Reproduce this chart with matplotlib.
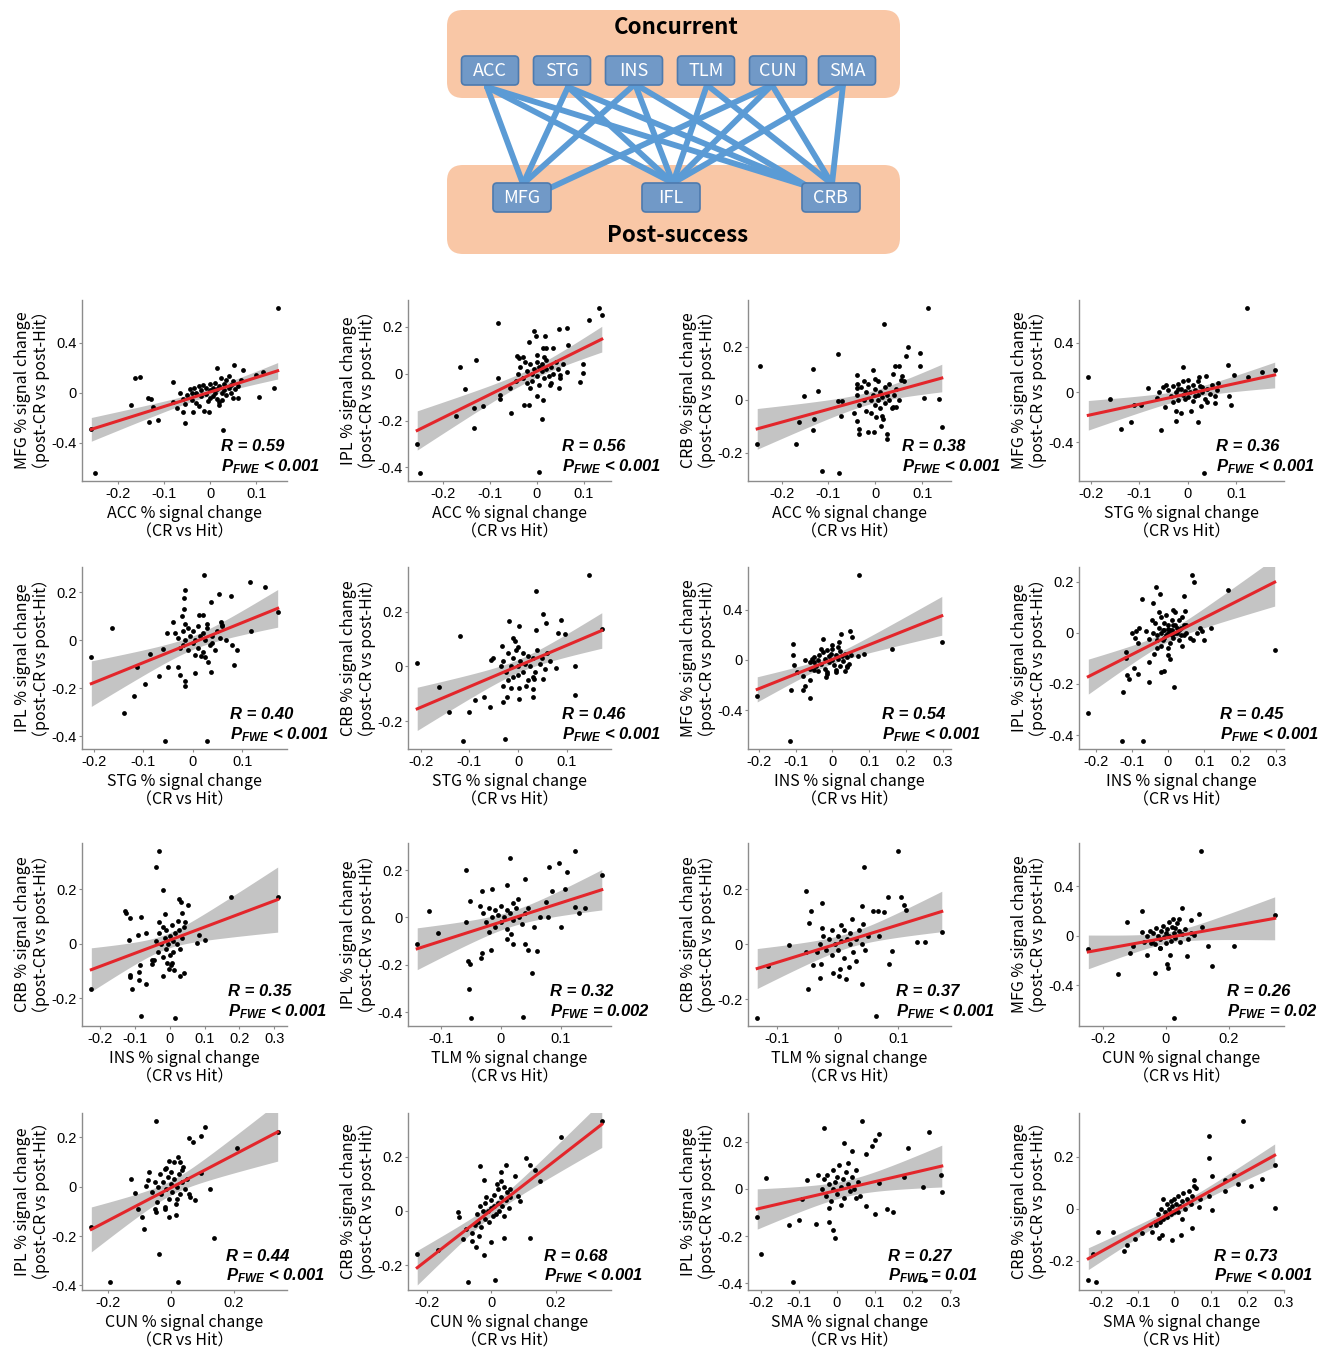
import numpy as np
import matplotlib.pyplot as plt
from matplotlib.patches import FancyBboxPatch
from matplotlib.ticker import MultipleLocator, FuncFormatter

plt.rcParams['axes.unicode_minus'] = False
plt.rcParams['mathtext.fontset'] = 'custom'
plt.rcParams['mathtext.it'] = 'Liberation Sans:italic:bold'
plt.rcParams['mathtext.rm'] = 'Liberation Sans:bold'

# ---- network diagram ----
concurrent = ['ACC', 'STG', 'INS', 'TLM', 'CUN', 'SMA']
post_success = ['MFG', 'IFL', 'CRB']
edges = [('ACC', 'MFG'), ('ACC', 'IFL'), ('ACC', 'CRB'),
         ('STG', 'MFG'), ('STG', 'IFL'), ('STG', 'CRB'),
         ('INS', 'MFG'), ('INS', 'IFL'), ('INS', 'CRB'),
         ('TLM', 'IFL'), ('TLM', 'CRB'),
         ('CUN', 'MFG'), ('CUN', 'IFL'), ('CUN', 'CRB'),
         ('SMA', 'IFL'), ('SMA', 'CRB')]

# ---- scatter data (x: concurrent ROI, y: post-success ROI) ----
acc_mfg = [(0.147, 0.675), (-0.251, -0.64), (-0.259, -0.29), (-0.164, 0.115), (-0.154, 0.128),
           (-0.08, 0.088), (-0.173, -0.099), (-0.136, -0.045), (-0.13, -0.048), (-0.124, -0.112),
           (-0.134, -0.237), (-0.114, -0.219), (-0.055, -0.24), (0.027, -0.3), (-0.081, -0.077),
           (-0.073, -0.125), (-0.059, -0.152), (-0.037, -0.152), (-0.014, -0.147), (-0.003, -0.157),
           (0.014, 0.2), (0.052, 0.221), (0.072, 0.181), (0.099, 0.141), (0.116, 0.168),
           (0.106, -0.032), (0.14, 0.035), (0.049, -0.045), (0.02, -0.072), (0.04, 0.133),
           (0.024, 0.115), (0.066, 0.101), (0.045, 0.06), (0.06, 0.05),
           (-0.05, -0.02), (-0.045, 0.03), (-0.04, -0.06), (-0.035, 0.04), (-0.03, 0.0),
           (-0.03, -0.08), (-0.025, 0.05), (-0.02, -0.03), (-0.02, 0.02), (-0.015, 0.06),
           (-0.01, -0.01), (-0.01, 0.04), (-0.005, -0.07), (0.0, 0.02), (0.0, 0.07),
           (0.005, -0.03), (0.005, 0.04), (0.01, 0.0), (0.01, 0.08), (0.015, -0.05),
           (0.015, 0.03), (0.02, 0.05), (0.025, 0.0), (0.025, -0.06), (0.03, 0.07),
           (0.03, 0.02), (0.035, -0.02), (0.04, 0.04), (0.045, 0.0), (0.05, 0.09),
           (0.055, 0.03), (0.06, -0.04), (-0.06, -0.05), (-0.065, 0.0), (-0.055, -0.09),
           (-0.04, 0.0), (0.0, -0.04), (0.02, -0.1), (0.035, 0.1), (-0.025, -0.11)]

acc_ipl = [(0.133, 0.279), (0.138, 0.25), (0.11, 0.229), (0.065, 0.196), (0.047, 0.191),
           (-0.006, 0.181), (-0.082, 0.214), (-0.016, 0.136), (-0.002, 0.16), (0.018, 0.16),
           (0.014, 0.11), (0.02, 0.108), (0.034, 0.11), (0.066, 0.121), (-0.13, 0.057),
           (-0.163, 0.029), (-0.153, -0.067), (-0.172, -0.181), (-0.133, -0.233), (-0.133, -0.147),
           (-0.115, -0.14), (-0.254, -0.3), (-0.248, -0.423), (0.004, -0.421), (-0.054, -0.17),
           (0.011, -0.193), (-0.027, -0.133), (-0.016, -0.133), (0.014, -0.113), (0.001, -0.097),
           (-0.082, -0.019), (-0.078, -0.093), (-0.078, -0.109), (-0.057, -0.061), (0.027, -0.047),
           (0.047, -0.061), (0.099, 0.041), (0.099, 0.003), (0.092, -0.037), (0.064, 0.007),
           (0.05, -0.004), (-0.043, 0.074), (-0.037, 0.067),
           (-0.04, 0.0), (-0.035, 0.03), (-0.03, -0.02), (-0.025, 0.05), (-0.02, 0.01),
           (-0.02, -0.04), (-0.015, 0.04), (-0.01, 0.0), (-0.01, -0.03), (-0.005, 0.02),
           (0.0, 0.05), (0.0, -0.01), (0.005, 0.03), (0.005, -0.05), (0.01, 0.01),
           (0.01, 0.04), (0.015, -0.02), (0.02, 0.02), (0.02, 0.06), (0.025, -0.01),
           (0.03, 0.03), (0.035, 0.0), (0.04, 0.05), (0.045, 0.02), (0.05, -0.02),
           (0.055, 0.04), (-0.045, -0.03), (0.0, 0.08), (-0.03, 0.07), (0.03, -0.04),
           (0.015, 0.07), (-0.015, -0.06)]

acc_crb = [(0.113, 0.346), (0.019, 0.287), (0.069, 0.199), (0.096, 0.177), (0.065, 0.165),
           (0.096, 0.127), (-0.079, 0.175), (-0.133, 0.118), (-0.246, 0.127), (-0.123, 0.034),
           (-0.152, 0.016), (-0.162, -0.082), (-0.13, -0.072), (-0.133, -0.114), (-0.17, -0.166),
           (-0.252, -0.168), (-0.113, -0.268), (-0.077, -0.275), (-0.079, -0.006), (-0.071, -0.004),
           (-0.074, -0.059), (-0.038, 0.095), (-0.039, 0.059), (-0.038, 0.045), (-0.038, -0.08),
           (-0.035, -0.13), (-0.035, -0.108), (-0.016, -0.12), (-0.002, -0.123), (-0.004, 0.114),
           (0.026, -0.13), (0.026, -0.149), (0.001, -0.066), (0.013, -0.097), (0.016, -0.073),
           (0.038, 0.097), (0.043, 0.127), (0.05, 0.127), (0.057, 0.092), (0.055, 0.076),
           (0.062, 0.07), (0.038, -0.025), (0.045, -0.025), (0.137, 0.003), (0.142, -0.103),
           (0.105, 0.009),
           (-0.04, 0.02), (-0.035, -0.02), (-0.03, 0.05), (-0.025, 0.0), (-0.02, -0.04),
           (-0.02, 0.03), (-0.015, 0.06), (-0.01, 0.0), (-0.01, -0.05), (-0.005, 0.02),
           (0.0, 0.04), (0.0, -0.02), (0.005, 0.07), (0.005, 0.0), (0.01, 0.03),
           (0.01, -0.03), (0.015, 0.01), (0.02, 0.05), (0.02, -0.01), (0.025, 0.02),
           (0.03, 0.0), (0.03, 0.06), (0.035, -0.03), (0.04, 0.02), (0.045, 0.04),
           (-0.045, -0.05), (0.0, 0.08), (0.015, -0.06), (-0.025, 0.07), (0.05, 0.0)]

stg_mfg = [(0.122, 0.675), (-0.205, 0.12), (0.034, -0.645), (-0.137, -0.293), (-0.118, -0.24),
           (-0.055, -0.304), (-0.16, -0.053), (-0.11, -0.099), (-0.096, -0.099), (-0.083, 0.035),
           (-0.059, 0.003), (-0.051, 0.04), (-0.047, -0.12), (-0.064, -0.045), (-0.01, 0.2),
           (0.083, 0.221), (0.096, 0.141), (0.124, 0.123), (0.152, 0.163), (0.179, 0.181),
           (0.063, 0.075), (0.084, -0.032), (0.088, -0.099), (0.056, -0.085), (0.027, -0.112),
           (0.007, -0.147), (-0.024, -0.152), (-0.024, -0.227), (0.022, -0.24), (-0.014, -0.165),
           (0.024, 0.12), (0.037, 0.128),
           (-0.04, 0.02), (-0.035, -0.03), (-0.03, 0.05), (-0.025, 0.0), (-0.02, 0.07),
           (-0.02, -0.06), (-0.015, 0.03), (-0.01, -0.02), (-0.01, 0.09), (-0.005, 0.01),
           (0.0, -0.04), (0.0, 0.04), (0.005, 0.0), (0.01, 0.06), (0.01, -0.07),
           (0.015, 0.02), (0.02, -0.02), (0.025, 0.05), (0.03, 0.0), (0.035, -0.05),
           (0.04, 0.03), (0.045, -0.01), (0.05, 0.06), (0.055, -0.03), (-0.03, -0.08),
           (0.0, 0.1), (0.02, 0.09), (0.04, -0.08), (-0.045, 0.06), (0.06, 0.02),
           (-0.02, 0.03), (0.015, -0.03), (0.03, 0.04), (-0.005, -0.05)]

stg_ipl = [(0.022, 0.271), (0.116, 0.244), (0.146, 0.223), (-0.016, 0.21), (-0.018, 0.175),
           (0.053, 0.193), (0.078, 0.185), (0.038, 0.158), (-0.018, 0.13), (0.012, 0.107),
           (0.021, 0.107), (-0.022, 0.103), (-0.039, 0.075), (-0.016, 0.068), (0.058, 0.075),
           (0.06, 0.066), (0.172, 0.118), (0.118, 0.038), (0.067, 0.0), (0.079, -0.021),
           (0.09, -0.04), (0.084, -0.103), (-0.163, 0.052), (-0.205, -0.068), (-0.112, -0.112),
           (-0.086, -0.055), (-0.061, -0.034), (-0.052, 0.032), (-0.05, -0.112), (-0.068, -0.147),
           (-0.097, -0.181), (-0.119, -0.233), (-0.139, -0.301), (-0.029, -0.112), (-0.025, -0.144),
           (-0.015, -0.171), (-0.015, -0.192), (0.004, -0.137), (0.031, -0.092), (0.038, -0.133),
           (-0.056, -0.418), (0.029, -0.418), (0.016, -0.064), (0.025, -0.071),
           (-0.03, 0.01), (-0.025, -0.03), (-0.02, 0.04), (-0.015, 0.0), (-0.01, 0.05),
           (-0.01, -0.04), (-0.005, 0.02), (0.0, -0.01), (0.0, 0.04), (0.005, 0.0),
           (0.01, 0.06), (0.01, -0.03), (0.015, 0.02), (0.02, -0.05), (0.02, 0.03),
           (0.025, 0.0), (0.03, 0.05), (0.035, -0.02), (0.04, 0.02), (0.045, -0.04),
           (0.05, 0.04), (0.055, 0.01), (0.06, 0.06), (-0.035, 0.03), (0.005, -0.06),
           (0.03, 0.07), (-0.02, -0.02), (0.04, -0.01)]

stg_crb = [(0.145, 0.333), (0.037, 0.274), (0.052, 0.19), (0.089, 0.168), (0.058, 0.159),
           (0.002, 0.148), (-0.018, 0.166), (0.037, 0.135), (0.172, 0.138), (-0.12, 0.11),
           (-0.207, 0.012), (-0.163, -0.076), (-0.141, -0.167), (-0.1, -0.167), (-0.088, -0.124),
           (-0.069, -0.112), (-0.058, -0.149), (-0.114, -0.271), (-0.027, -0.265), (-0.03, -0.073),
           (-0.031, -0.13), (-0.022, -0.112), (-0.014, -0.078), (0.003, -0.118), (0.001, -0.078),
           (0.016, -0.07), (0.031, -0.112), (0.031, -0.082), (0.033, -0.045), (0.051, -0.045),
           (0.118, 0.0), (0.116, -0.104), (0.077, -0.005), (0.082, 0.122), (0.097, 0.117),
           (-0.01, 0.105), (-0.007, 0.092), (-0.033, 0.073), (-0.052, 0.032), (-0.056, 0.025),
           (-0.03, 0.02), (-0.025, -0.02), (-0.02, 0.05), (-0.015, 0.0), (-0.01, -0.04),
           (-0.01, 0.03), (-0.005, 0.06), (0.0, 0.0), (0.0, -0.03), (0.005, 0.02),
           (0.01, 0.05), (0.01, -0.02), (0.015, 0.01), (0.02, 0.04), (0.02, -0.05),
           (0.025, 0.0), (0.03, 0.03), (0.035, -0.02), (0.04, 0.06), (0.045, 0.01),
           (0.05, 0.03), (0.055, -0.01), (0.06, 0.05), (0.065, 0.02), (-0.035, 0.0),
           (0.0, 0.07), (0.03, -0.04), (-0.02, -0.05)]

ins_mfg = [(0.073, 0.675), (-0.204, -0.291), (-0.116, -0.645), (-0.113, -0.24), (-0.062, -0.304),
           (-0.079, -0.237), (-0.075, -0.211), (-0.106, 0.128), (-0.106, 0.04), (-0.103, -0.04),
           (-0.097, -0.093), (-0.079, -0.131), (-0.062, -0.157), (-0.075, 0.003), (-0.054, 0.008),
           (-0.051, -0.019), (-0.026, 0.168), (0.024, 0.208), (0.048, 0.227), (0.053, 0.181),
           (0.018, 0.141), (0.015, 0.101), (0.069, 0.029), (0.085, 0.048), (0.163, 0.088),
           (0.297, 0.141), (-0.018, -0.139), (-0.015, -0.112), (0.011, -0.099), (0.035, -0.085),
           (0.04, -0.051), (-0.04, -0.085), (-0.062, -0.072),
           (-0.06, -0.02), (-0.05, 0.02), (-0.045, -0.05), (-0.04, 0.0), (-0.035, 0.04),
           (-0.03, -0.03), (-0.025, 0.06), (-0.02, 0.01), (-0.02, -0.07), (-0.015, 0.08),
           (-0.01, 0.03), (-0.01, -0.02), (-0.005, 0.05), (0.0, 0.0), (0.0, 0.09),
           (0.005, -0.04), (0.01, 0.04), (0.015, 0.01), (0.02, 0.07), (0.02, -0.05),
           (0.025, 0.03), (0.03, -0.01), (0.035, 0.05), (0.04, 0.02), (0.045, -0.03),
           (0.05, 0.04), (-0.03, 0.09), (0.01, -0.08), (-0.05, -0.08), (0.04, -0.06),
           (0.0, 0.12), (-0.015, -0.1)]

ins_ipl = [(0.066, 0.225), (0.071, 0.199), (0.165, 0.168), (0.295, -0.068), (-0.034, 0.178),
           (-0.022, 0.153), (-0.072, 0.134), (-0.04, 0.116), (0.044, 0.145), (0.048, 0.084),
           (0.08, 0.0), (0.094, 0.007), (-0.088, 0.007), (-0.084, -0.039), (-0.06, 0.007),
           (-0.052, -0.025), (-0.115, -0.075), (-0.115, -0.097), (-0.113, -0.165), (-0.108, -0.18),
           (-0.124, -0.23), (-0.093, -0.136), (-0.084, -0.162), (-0.052, -0.116), (-0.052, -0.191),
           (-0.02, -0.155), (-0.011, -0.15), (0.018, -0.212), (0.001, -0.087), (0.007, -0.104),
           (-0.22, -0.314), (-0.126, -0.422), (-0.07, -0.422), (-0.038, -0.082), (-0.029, -0.061),
           (-0.04, 0.0), (-0.035, 0.04), (-0.03, -0.03), (-0.025, 0.02), (-0.02, 0.06),
           (-0.02, -0.05), (-0.015, 0.01), (-0.01, 0.04), (-0.01, -0.02), (-0.005, 0.07),
           (0.0, 0.0), (0.0, 0.03), (0.005, -0.04), (0.01, 0.05), (0.01, 0.01),
           (0.015, -0.02), (0.02, 0.03), (0.02, 0.08), (0.025, 0.0), (0.03, 0.05),
           (0.03, -0.03), (0.035, 0.02), (0.04, 0.06), (0.045, -0.01), (0.05, 0.03),
           (-0.045, 0.05), (0.0, -0.06), (0.015, 0.09), (-0.025, 0.08), (0.04, -0.05),
           (-0.03, -0.01), (-0.02, 0.0), (-0.015, -0.03), (-0.005, -0.01), (0.005, 0.01),
           (0.01, -0.01), (0.015, 0.03), (0.025, 0.02), (0.03, 0.01), (0.035, -0.01),
           (-0.01, 0.01), (0.0, 0.015), (0.02, 0.0), (0.045, 0.03), (0.05, 0.0),
           (-0.1, 0.0), (-0.09, -0.02), (-0.08, 0.02), (0.06, -0.02), (0.07, -0.03),
           (0.09, 0.02), (0.12, 0.02), (0.1, -0.03)]

ins_crb = [(-0.032, 0.34), (-0.039, 0.282), (-0.02, 0.196), (0.175, 0.172), (0.31, 0.172),
           (-0.226, -0.168), (-0.082, -0.267), (0.016, -0.272), (-0.129, 0.119), (-0.125, 0.114),
           (-0.115, 0.094), (-0.119, 0.015), (-0.082, 0.098), (-0.091, 0.033), (-0.07, 0.04),
           (-0.086, -0.08), (-0.088, -0.104), (-0.115, -0.114), (-0.115, -0.123), (-0.088, -0.133),
           (-0.07, -0.147), (-0.11, -0.166), (-0.052, -0.058), (-0.052, -0.074), (-0.02, -0.119),
           (-0.002, -0.094), (-0.009, -0.07), (0.028, -0.117), (0.004, -0.08), (0.077, 0.002),
           (0.101, 0.012), (0.083, 0.033), (0.022, 0.082), (0.026, 0.163), (0.032, 0.155),
           (0.053, 0.141), (0.034, 0.113), (0.044, 0.08), (-0.015, 0.11), (0.04, -0.107),
           (0.012, -0.098),
           (-0.04, 0.01), (-0.035, -0.03), (-0.03, 0.04), (-0.025, 0.0), (-0.02, -0.05),
           (-0.02, 0.06), (-0.015, 0.02), (-0.01, -0.02), (-0.01, 0.05), (-0.005, 0.0),
           (0.0, 0.03), (0.0, -0.04), (0.005, 0.07), (0.01, 0.01), (0.01, -0.03),
           (0.015, 0.04), (0.02, 0.0), (0.025, 0.05), (0.03, -0.02), (0.035, 0.02),
           (0.04, 0.06), (-0.045, -0.06), (0.005, -0.07), (-0.03, 0.08)]

tlm_ipl = [(0.124, 0.279), (0.015, 0.25), (0.097, 0.229), (0.081, 0.214), (0.11, 0.19),
           (0.169, 0.179), (-0.059, 0.2), (0.041, 0.16), (0.01, 0.136), (-0.031, 0.11),
           (-0.014, 0.118), (-0.052, 0.071), (-0.121, 0.026), (0.028, 0.079), (0.086, 0.111),
           (0.107, 0.121), (0.076, 0.064), (0.124, 0.043), (0.141, 0.04), (0.131, 0.017),
           (0.101, -0.04), (-0.14, -0.111), (-0.106, -0.067), (-0.059, -0.021), (-0.055, -0.183),
           (-0.052, -0.197), (-0.034, -0.171), (-0.032, -0.15), (-0.017, -0.136), (-0.054, -0.303),
           (-0.05, -0.424), (0.037, -0.421), (0.053, -0.236), (0.06, -0.143), (0.045, -0.136),
           (0.04, -0.111), (0.021, -0.114), (0.017, -0.071), (0.01, -0.093), (0.055, -0.04),
           (0.066, 0.0), (0.079, 0.0),
           (-0.03, 0.02), (-0.025, -0.02), (-0.02, 0.04), (-0.015, 0.0), (-0.01, -0.04),
           (-0.01, 0.03), (-0.005, 0.01), (0.0, 0.05), (0.0, -0.02), (0.005, 0.0),
           (0.01, 0.03), (0.01, -0.05), (0.015, 0.02), (0.02, -0.01), (0.025, 0.04),
           (0.03, 0.0), (0.035, -0.03), (0.04, 0.02), (-0.035, 0.05), (0.02, 0.06),
           (-0.02, -0.06), (0.045, 0.04)]

tlm_crb = [(0.099, 0.338), (0.043, 0.28), (-0.052, 0.195), (0.083, 0.171), (0.104, 0.173),
           (0.11, 0.144), (0.113, 0.126), (-0.026, 0.15), (-0.044, 0.122), (0.04, 0.138),
           (-0.133, -0.268), (-0.115, -0.079), (-0.08, -0.004), (-0.052, -0.03), (-0.049, -0.165),
           (-0.04, -0.077), (-0.029, -0.122), (-0.028, -0.073), (-0.008, -0.107), (0.003, -0.091),
           (0.002, -0.115), (0.014, -0.128), (0.019, -0.082), (0.04, -0.146), (0.064, -0.262),
           (0.085, -0.071), (0.09, -0.024), (0.131, 0.006), (0.144, 0.009), (0.172, 0.043),
           (0.058, 0.122), (0.066, 0.122), (0.076, 0.118), (-0.026, 0.057), (-0.047, 0.077),
           (0.024, 0.091), (0.042, 0.073), (0.068, 0.03),
           (-0.03, 0.0), (-0.025, 0.03), (-0.02, -0.02), (-0.015, 0.02), (-0.01, 0.05),
           (-0.01, -0.04), (-0.005, 0.0), (0.0, 0.03), (0.0, -0.02), (0.005, 0.01),
           (0.01, 0.05), (0.01, -0.05), (0.015, 0.02), (0.02, 0.0), (0.02, 0.04),
           (0.025, -0.03), (0.03, 0.02), (0.035, 0.05), (0.04, 0.0), (0.045, -0.02),
           (0.05, 0.03), (-0.035, -0.03), (0.005, 0.07), (0.03, -0.06)]

cun_mfg = [(0.112, 0.681), (0.345, 0.166), (0.027, -0.662), (-0.246, -0.105), (-0.151, -0.309),
           (-0.034, -0.303), (-0.077, 0.199), (-0.124, 0.11), (-0.115, -0.138), (-0.104, -0.083),
           (-0.077, 0.028), (-0.061, -0.152), (0.004, -0.229), (0.007, -0.257), (0.014, -0.152),
           (0.05, 0.221), (0.104, 0.179), (0.081, 0.13), (0.115, 0.069), (0.135, -0.083),
           (0.146, -0.248), (0.216, -0.083), (0.068, -0.166), (0.088, 0.006), (0.024, 0.138),
           (0.04, 0.138), (-0.047, -0.063), (-0.02, -0.097),
           (-0.06, 0.0), (-0.05, 0.04), (-0.045, -0.04), (-0.04, 0.02), (-0.035, -0.07),
           (-0.03, 0.06), (-0.025, 0.0), (-0.02, -0.03), (-0.015, 0.04), (-0.01, 0.08),
           (-0.005, -0.01), (0.0, 0.02), (0.0, -0.06), (0.005, 0.05), (0.01, 0.0),
           (0.015, -0.04), (0.02, 0.07), (0.025, 0.02), (0.03, -0.02), (0.035, 0.1),
           (0.04, 0.04), (0.045, -0.05), (0.05, 0.01), (0.06, 0.05), (0.07, -0.03),
           (-0.07, -0.05), (0.01, 0.11), (-0.02, -0.1), (0.03, 0.06), (0.08, 0.02)]

cun_ipl = [(0.341, 0.223), (0.211, 0.157), (-0.046, 0.266), (0.108, 0.24), (0.095, 0.204),
           (0.057, 0.197), (0.07, 0.183), (-0.127, 0.033), (-0.114, -0.024), (-0.105, -0.089),
           (-0.092, -0.124), (-0.086, -0.171), (-0.254, -0.164), (-0.038, -0.274), (-0.195, -0.386),
           (0.022, -0.386), (0.138, -0.206), (0.124, -0.01), (0.076, -0.053), (0.057, -0.031),
           (0.016, -0.113), (-0.005, -0.124), (-0.051, -0.089), (-0.046, -0.103), (-0.019, -0.081),
           (0.035, 0.066), (-0.005, 0.104), (-0.014, 0.076), (0.022, 0.119), (0.095, 0.057),
           (-0.073, 0.026), (-0.078, 0.004),
           (-0.06, -0.02), (-0.05, 0.02), (-0.045, -0.06), (-0.04, 0.0), (-0.035, 0.05),
           (-0.03, -0.03), (-0.025, 0.02), (-0.02, 0.07), (-0.015, -0.01), (-0.01, 0.04),
           (-0.005, -0.05), (0.0, 0.01), (0.0, 0.06), (0.005, -0.02), (0.01, 0.03),
           (0.015, -0.07), (0.02, 0.0), (0.025, 0.05), (0.03, -0.03), (0.035, 0.02),
           (0.04, 0.08), (0.045, -0.01), (0.05, 0.03), (0.06, -0.04), (-0.07, 0.06),
           (0.01, 0.1), (-0.02, -0.09), (0.03, 0.1), (0.02, -0.05)]

cun_crb = [(0.343, 0.332), (0.218, 0.273), (-0.229, -0.158), (-0.073, -0.262), (0.013, -0.256),
           (-0.021, -0.161), (0.109, 0.195), (0.122, 0.169), (0.153, 0.112), (0.135, 0.151),
           (0.122, -0.1), (-0.164, -0.145), (-0.104, -0.003), (-0.099, -0.022), (-0.078, -0.068),
           (-0.086, -0.104), (-0.06, -0.109), (-0.039, -0.091), (-0.047, -0.132), (0.0, -0.113),
           (0.039, -0.1), (-0.034, 0.166), (0.047, 0.169), (0.031, 0.143), (0.075, 0.13),
           (-0.021, 0.114), (0.018, 0.101), (0.057, 0.082), (0.083, 0.056), (0.088, 0.036),
           (-0.05, -0.05), (-0.045, -0.01), (-0.04, -0.04), (-0.035, 0.02), (-0.03, -0.06),
           (-0.025, 0.0), (-0.02, 0.03), (-0.02, -0.03), (-0.015, 0.05), (-0.01, 0.0),
           (-0.005, -0.04), (0.0, 0.04), (0.0, 0.01), (0.005, -0.02), (0.01, 0.06),
           (0.01, 0.02), (0.015, -0.01), (0.02, 0.08), (0.02, 0.03), (0.025, 0.0),
           (0.03, 0.05), (0.035, 0.02), (0.04, 0.09), (0.04, -0.02), (0.045, 0.04),
           (0.05, 0.07), (0.055, 0.01), (0.06, 0.05), (-0.06, -0.08), (0.03, 0.11)]

sma_ipl = [(0.067, 0.288), (0.244, 0.242), (-0.033, 0.26), (0.111, 0.233), (0.1, 0.208),
           (0.093, 0.181), (0.189, 0.174), (0.018, 0.195), (0.04, 0.16), (0.078, 0.147),
           (-0.189, 0.047), (-0.211, -0.121), (-0.2, -0.278), (-0.127, -0.155), (-0.1, -0.134),
           (-0.116, -0.395), (-0.056, -0.151), (-0.022, -0.141), (-0.011, -0.175), (-0.004, -0.21),
           (0.051, -0.038), (0.078, -0.073), (0.133, -0.086), (0.149, -0.1), (0.1, -0.107),
           (0.229, 0.01), (0.278, -0.014), (0.275, 0.058), (0.233, -0.388), (0.111, 0.023),
           (0.178, 0.051), (-0.078, 0.037), (-0.093, -0.041),
           (-0.04, 0.0), (-0.035, 0.04), (-0.03, -0.03), (-0.025, 0.06), (-0.02, 0.02),
           (-0.015, -0.05), (-0.01, 0.08), (-0.01, 0.0), (-0.005, 0.03), (0.0, -0.02),
           (0.0, 0.05), (0.005, 0.1), (0.01, 0.01), (0.015, 0.04), (0.02, -0.04),
           (0.025, 0.07), (0.03, 0.02), (0.035, -0.01), (0.04, 0.05), (0.045, 0.0),
           (0.05, 0.08), (0.055, 0.03), (0.06, -0.03), (-0.05, 0.06), (0.01, -0.07),
           (0.03, 0.11), (-0.02, -0.08)]

sma_crb = [(0.187, 0.338), (0.096, 0.279), (0.096, 0.194), (0.275, 0.169), (0.24, 0.116),
           (0.275, 0.004), (-0.235, -0.275), (-0.213, -0.281), (-0.221, -0.175), (-0.137, -0.163),
           (-0.209, -0.088), (-0.168, -0.088), (-0.13, -0.138), (-0.108, -0.116), (-0.089, -0.094),
           (-0.065, -0.063), (-0.053, -0.05), (-0.041, -0.113), (-0.034, -0.1), (-0.005, -0.119),
           (0.019, -0.1), (0.05, -0.075), (0.055, 0.113), (0.055, 0.088), (0.103, 0.125),
           (0.139, 0.113), (0.163, 0.131), (0.175, 0.094), (0.211, 0.088), (0.139, 0.069),
           (0.096, 0.05), (0.103, -0.006), (0.067, 0.009),
           (-0.05, -0.06), (-0.045, -0.02), (-0.04, -0.05), (-0.035, 0.0), (-0.03, -0.04),
           (-0.025, -0.01), (-0.02, 0.02), (-0.02, -0.03), (-0.015, 0.0), (-0.01, -0.02),
           (-0.01, 0.03), (-0.005, 0.01), (0.0, -0.01), (0.0, 0.04), (0.005, 0.02),
           (0.01, -0.01), (0.01, 0.05), (0.015, 0.01), (0.02, 0.03), (0.025, 0.06),
           (0.03, 0.0), (0.035, 0.04), (0.04, 0.07), (0.045, 0.02), (0.05, 0.05),
           (0.06, 0.08), (0.07, 0.04), (-0.06, -0.09), (0.02, -0.04), (-0.03, 0.04)]

panel_data = [acc_mfg, acc_ipl, acc_crb, stg_mfg,
              stg_ipl, stg_crb, ins_mfg, ins_ipl,
              ins_crb, tlm_ipl, tlm_crb, cun_mfg,
              cun_ipl, cun_crb, sma_ipl, sma_crb]
x_regions = ['ACC', 'ACC', 'ACC', 'STG', 'STG', 'STG', 'INS', 'INS',
             'INS', 'TLM', 'TLM', 'CUN', 'CUN', 'CUN', 'SMA', 'SMA']
y_regions = ['MFG', 'IPL', 'CRB', 'MFG', 'IPL', 'CRB', 'MFG', 'IPL',
             'CRB', 'IPL', 'CRB', 'MFG', 'IPL', 'CRB', 'IPL', 'CRB']
r_values = ['0.59', '0.56', '0.38', '0.36', '0.40', '0.46', '0.54', '0.45',
            '0.35', '0.32', '0.37', '0.26', '0.44', '0.68', '0.27', '0.73']
p_values = ['< 0.001', '< 0.001', '< 0.001', '< 0.001', '< 0.001', '< 0.001', '< 0.001', '< 0.001',
            '< 0.001', '= 0.002', '< 0.001', '= 0.02', '< 0.001', '< 0.001', '= 0.01', '< 0.001']

# ---- figure ----
W, H = 1325, 1348
fig = plt.figure(figsize=(W / 100, H / 100), dpi=100)

# diagram drawn in pixel coordinates
dax = fig.add_axes([0, 0, 1, 1])
dax.set_xlim(0, W)
dax.set_ylim(H, 0)
dax.axis('off')

peach = '#F9C7A6'
for y0, y1 in [(10, 98), (165, 254)]:
    dax.add_patch(FancyBboxPatch((447, y0), 453, y1 - y0,
                                 boxstyle='round,pad=0,rounding_size=16',
                                 fc=peach, ec='none', zorder=1))
dax.text(676, 28, 'Concurrent', ha='center', va='center', fontsize=16,
         fontweight='bold', family='Noto Sans CJK JP', zorder=5)
dax.text(678, 235, 'Post-success', ha='center', va='center', fontsize=16,
         fontweight='bold', family='Noto Sans CJK JP', zorder=5)

top_x = [490, 562, 634, 706, 778, 847]
top_anchor = {'ACC': (487, 87), 'STG': (568, 87), 'INS': (635, 84),
              'TLM': (707, 85), 'CUN': (772, 85), 'SMA': (843, 85)}
bot_x = [522, 671, 831]
bot_anchor = {'MFG': (523, 184), 'IFL': (673, 183), 'CRB': (832, 184)}
bot_anchor_alt = {('CUN', 'MFG'): (550, 188), ('ACC', 'CRB'): (807, 186),
                  ('STG', 'CRB'): (807, 186), ('INS', 'CRB'): (807, 186)}

for a, b in edges:
    p0 = top_anchor[a]
    p1 = bot_anchor_alt.get((a, b), bot_anchor[b])
    dax.plot([p0[0], p1[0]], [p0[1], p1[1]], color='#5B9BD5', lw=4.2,
             solid_capstyle='round', zorder=2)

node_fc, node_ec = '#7199C7', '#4D7AAE'
for name, cx in zip(concurrent, top_x):
    dax.add_patch(FancyBboxPatch((cx - 28.5, 56), 57, 29,
                                 boxstyle='round,pad=0,rounding_size=4',
                                 fc=node_fc, ec=node_ec, lw=1.2, zorder=3))
    dax.text(cx, 71, name, ha='center', va='center', color='white',
             fontsize=13, family='Noto Sans CJK JP', zorder=4)
for name, cx in zip(post_success, bot_x):
    dax.add_patch(FancyBboxPatch((cx - 29, 183), 58, 29,
                                 boxstyle='round,pad=0,rounding_size=4',
                                 fc=node_fc, ec=node_ec, lw=1.2, zorder=3))
    dax.text(cx, 198, name, ha='center', va='center', color='white',
             fontsize=13, family='Noto Sans CJK JP', zorder=4)

# scatter grid
col_left = [82, 408, 748, 1079]
col_width = [205, 203, 203, 205]
row_top = [300, 567, 843, 1113]
row_height = [181, 182, 183, 177]
text_x = [0.68, 0.76, 0.76, 0.67, 0.72, 0.76, 0.66, 0.69,
          0.71, 0.70, 0.73, 0.72, 0.70, 0.67, 0.69, 0.66]
x_step = {'ACC': 0.1, 'STG': 0.1, 'INS': 0.1, 'TLM': 0.1, 'CUN': 0.2, 'SMA': 0.1}
y_step = {'MFG': 0.4, 'IPL': 0.2, 'CRB': 0.2}

tick_fmt = FuncFormatter(lambda v, pos: '0' if abs(v) < 1e-9 else f'{v:g}')
label_font = 'Noto Sans CJK JP'

for i, pts in enumerate(panel_data):
    r, c = divmod(i, 4)
    ax = fig.add_axes([col_left[c] / W, 1 - (row_top[r] + row_height[r]) / H,
                       col_width[c] / W, row_height[r] / H])
    x, y = np.array(pts).T

    # least-squares fit with 95% confidence band
    slope, icpt = np.polyfit(x, y, 1)
    n = len(x)
    resid = y - (slope * x + icpt)
    s = np.sqrt(np.sum(resid ** 2) / (n - 2))
    xs = np.linspace(x.min(), x.max(), 100)
    se = s * np.sqrt(1 / n + (xs - x.mean()) ** 2 / np.sum((x - x.mean()) ** 2))
    fit = slope * xs + icpt
    ax.fill_between(xs, fit - 1.98 * se, fit + 1.98 * se, color='#C4C4C4', lw=0, zorder=1)
    ax.scatter(x, y, s=12, color='black', lw=0, zorder=3)
    ax.plot(xs, fit, color='#E3262B', lw=2.2, zorder=4)

    xr = x.max() - x.min()
    yr = y.max() - y.min()
    ax.set_xlim(x.min() - 0.05 * xr, x.max() + 0.05 * xr)
    ax.set_ylim(y.min() - 0.05 * yr, y.max() + 0.05 * yr)
    ax.xaxis.set_major_locator(MultipleLocator(x_step[x_regions[i]]))
    ax.yaxis.set_major_locator(MultipleLocator(y_step[y_regions[i]]))
    ax.xaxis.set_major_formatter(tick_fmt)
    ax.yaxis.set_major_formatter(tick_fmt)

    for side in ['top', 'right']:
        ax.spines[side].set_visible(False)
    for side in ['left', 'bottom']:
        ax.spines[side].set_color('#8C8C8C')
        ax.spines[side].set_linewidth(1.0)
    ax.tick_params(length=2, width=0.8, color='#8C8C8C', labelsize=10.5, pad=2)
    for lab in ax.get_xticklabels() + ax.get_yticklabels():
        lab.set_family('Liberation Sans')

    ax.set_xlabel(f'{x_regions[i]} % signal change\n（CR vs Hit）',
                  family=label_font, fontsize=11.5, labelpad=3, linespacing=1.1)
    ax.set_ylabel(f'{y_regions[i]} % signal change\n（post-CR vs post-Hit）',
                  family=label_font, fontsize=11.5, labelpad=1, linespacing=1.1)

    ax.text(text_x[i], 0.19, f'R = {r_values[i]}', transform=ax.transAxes,
            family='Liberation Sans', fontweight='bold', style='italic',
            fontsize=12, va='center', ha='left', zorder=5)
    ax.text(text_x[i], 0.08, r'$P_{FWE}$' + f' {p_values[i]}', transform=ax.transAxes,
            family='Liberation Sans', fontweight='bold', style='italic',
            fontsize=12, va='center', ha='left', zorder=5)

fig.savefig('out.png', dpi=100)
